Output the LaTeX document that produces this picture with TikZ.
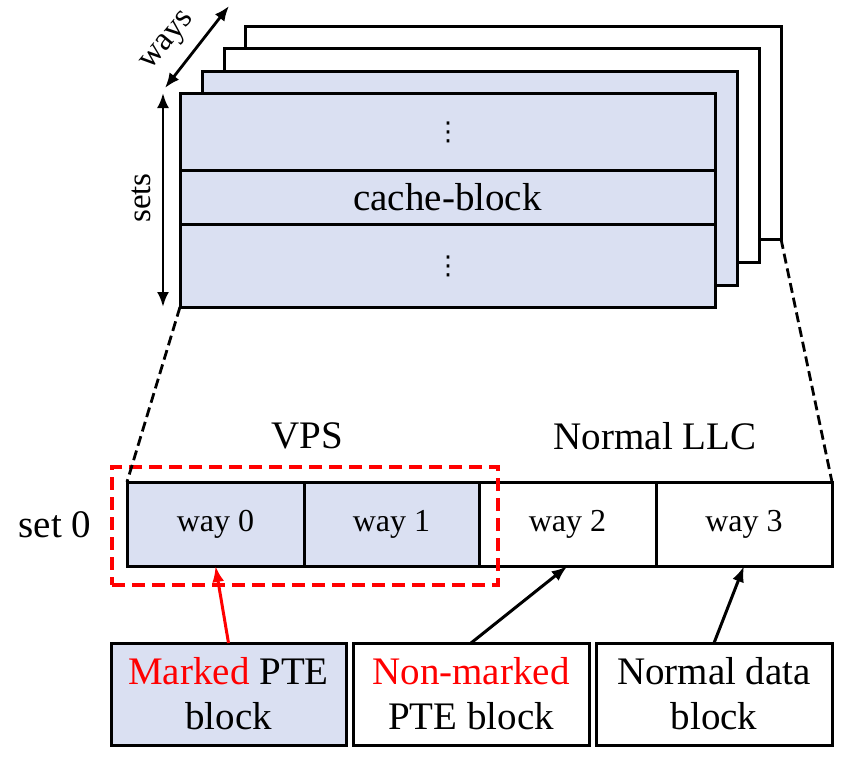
\documentclass[tikz,border=0pt]{standalone}
\usepackage{fontspec}
\setmainfont{Liberation Serif}
\newfontfamily\djv{DejaVu Sans}
\usetikzlibrary{arrows.meta}
\definecolor{lblue}{RGB}{218,224,242}
\definecolor{pred}{RGB}{255,0,0}
\begin{document}
\begin{tikzpicture}[x=1pt,y=-1pt,
  box/.style={draw=black,line width=3pt,inner sep=0pt,outer sep=0pt,rectangle},
  bigtxt/.style={font=\fontsize{39}{45}\selectfont,inner sep=0pt},
  waytxt/.style={font=\fontsize{32}{36}\selectfont},
  axtxt/.style={font=\fontsize{33}{36}\selectfont,inner sep=0pt},
  dotstxt/.style={font=\djv\fontsize{26}{30}\selectfont,inner sep=0pt},
  dblarrow/.style={{Latex[length=15pt,width=12pt]}-{Latex[length=15pt,width=12pt]},line width=2.8pt},
  ptr/.style={-{Latex[length=16pt,width=12pt]},line width=3pt},
  zoomline/.style={dash pattern=on 10pt off 5pt,line width=2.8pt},
  vpsbox/.style={draw=pred,line width=4.5pt,dash pattern=on 13pt off 7pt,rectangle,inner sep=0pt,outer sep=0pt}
]
\useasboundingbox (0,0) rectangle (856,764);

% stacked ways
\node[box,fill=white,minimum width=536pt,minimum height=213pt] (f4) at (513,132.5) {};
\node[box,fill=white,minimum width=535pt,minimum height=214pt] (f3) at (491.5,155) {};
\node[box,fill=lblue,minimum width=535pt,minimum height=214pt] (f2) at (469.5,178) {};
\node[box,fill=lblue,minimum width=535pt,minimum height=77pt] (r1) at (447.5,131.5) {};
\node[box,fill=lblue,minimum width=535pt,minimum height=54pt] (r2) at (447.5,197) {};
\node[box,fill=lblue,minimum width=535pt,minimum height=83pt] (r3) at (447.5,265.5) {};
\node[dotstxt] (d1) at (448,132) {⋮};
\node[dotstxt] (d2) at (448,266) {⋮};
\node[bigtxt] (cb) at (r2) {cache-block};

% axes
\coordinate (sa) at (163,93);
\coordinate (sb) at (163,307);
\draw[dblarrow] (sa) -- (sb);
\node[axtxt,rotate=90] (sets) at (141,198) {sets};
\coordinate (wa) at (165,88);
\coordinate (wb) at (229,6);
\draw[dblarrow] (wa) -- (wb);
\node[axtxt,rotate=50] (ways) at (169,42) {ways};

% set 0 row
\node[box,fill=lblue,minimum width=177pt,minimum height=84pt,waytxt] (c0) at (215.5,524) {way 0};
\node[box,fill=lblue,minimum width=175pt,minimum height=84pt,waytxt] (c1) at (391.5,524) {way 1};
\node[box,fill=white,minimum width=177pt,minimum height=84pt,waytxt] (c2) at (567.5,524) {way 2};
\node[box,fill=white,minimum width=176pt,minimum height=84pt,waytxt] (c3) at (744,524) {way 3};
\node[vpsbox,minimum width=386pt,minimum height=118pt] (vps) at (305,526) {};

\node[bigtxt] (vpsl) at (307,436) {VPS};
\node[bigtxt] (llc) at (655,436) {Normal LLC};
\node[bigtxt] (set0) at (55,525) {set 0};

% zoom lines
\draw[zoomline] (r3.south west) -- (c0.north west);
\draw[zoomline] (f4.south east) -- (c3.north east);

% bottom boxes
\node[box,fill=lblue,minimum width=235pt,minimum height=102pt,bigtxt,align=center] (b1) at (228.5,694) {\textcolor{pred}{Marked} PTE\\block};
\node[box,fill=white,minimum width=236pt,minimum height=102pt,bigtxt,align=center] (b2) at (471,694) {\textcolor{pred}{Non-marked}\\PTE block};
\node[box,fill=white,minimum width=236pt,minimum height=102pt,bigtxt,align=center] (b3) at (714,694) {Normal data\\block};

\draw[ptr,draw=pred,fill=pred] (b1.north) -- (c0.south);
\draw[ptr] (b2.north) -- (c2.south);
\draw[ptr] (b3.north) -- (c3.south);
\end{tikzpicture}
\end{document}
